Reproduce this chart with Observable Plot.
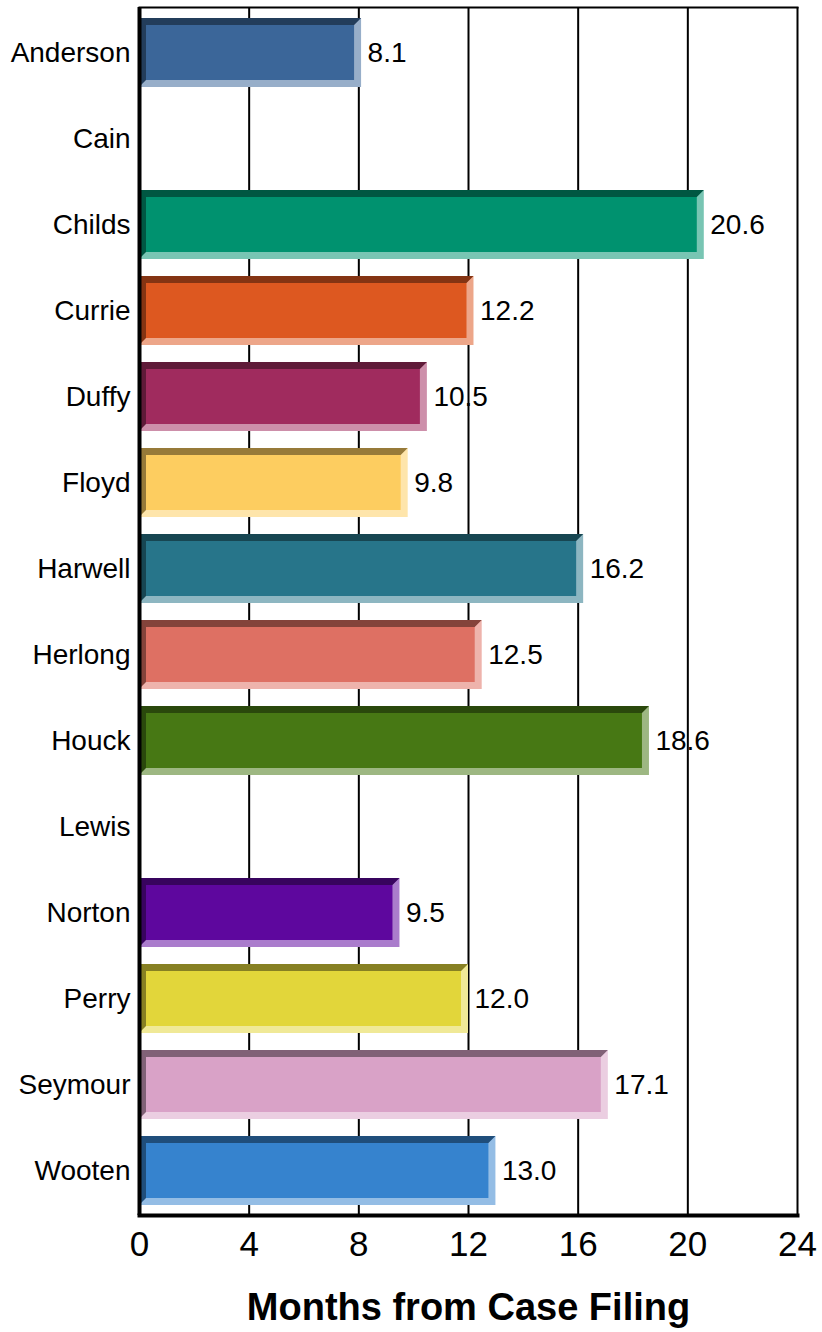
<!DOCTYPE html>
<html><head><meta charset="utf-8">
<script src="https://cdn.jsdelivr.net/npm/d3@7"></script>
<script src="https://cdn.jsdelivr.net/npm/@observablehq/plot@0.6"></script>
<style>
body{margin:0;background:#fff;color:#000;}
svg{font-family:"Liberation Sans",Arial,Helvetica,sans-serif;}
</style>
</head><body><div id="chart"></div>
<script>
const judges = ["Anderson","Cain","Childs","Currie","Duffy","Floyd","Harwell","Herlong","Houck","Lewis","Norton","Perry","Seymour","Wooten"];
const months = [8.1,null,20.6,12.2,10.5,9.8,16.2,12.5,18.6,null,9.5,12.0,17.1,13.0];
const barColors = ["#3b6699",null,"#00926f","#dd5820","#a02b5e","#fdcd60","#27758a","#de7063","#477814",null,"#5e079e","#e2d63a","#d9a2c7","#3683ce"];
const xTicks = [0,4,8,12,16,20,24];
const xLabel = "Months from Case Filing";

const data = judges.map((j,i)=>({judge:j, value:months[i], color:barColors[i]}))
  .filter(d => d.value != null);

const B = 7;
function bevelRender(index, scales, values, dimensions, context) {
  const g = d3.create("svg:g");
  const bw = scales.y.bandwidth();
  for (const i of index) {
    const x0 = values.x1[i], x1 = values.x2[i], y0 = values.y[i], y1 = y0 + bw;
    const c = data[i].color;
    const dark = d3.rgb(c).darker(1.45).formatHex();
    const light = d3.interpolateRgb(c, "#ffffff")(0.47);
    g.append("rect").attr("x", x0).attr("y", y0).attr("width", x1 - x0).attr("height", bw).attr("fill", light);
    g.append("polygon").attr("fill", dark)
      .attr("points", [[x0,y0],[x1,y0],[x1-B,y0+B],[x0+B,y0+B],[x0+B,y1-B],[x0,y1]].map(p=>p.join(",")).join(" "));
    g.append("rect").attr("x", x0 + B).attr("y", y0 + B).attr("width", x1 - x0 - 2*B).attr("height", bw - 2*B).attr("fill", c);
  }
  return g.node();
}

const chart = Plot.plot({
  width: 822,
  height: 1332,
  marginTop: 7,
  marginBottom: 117,
  marginLeft: 139,
  marginRight: 25,
  x: {domain: [0, 24]},
  y: {domain: judges, paddingInner: 0.2, paddingOuter: 0.1},
  marks: [
    Plot.ruleX(xTicks.slice(1), {stroke: "black", strokeWidth: 2}),
    Plot.frame({anchor: "top", stroke: "black", strokeWidth: 2}),
    Plot.barX(data, {x1: 0, x2: "value", y: "judge", fill: "color", render: bevelRender}),
    Plot.ruleX([0], {stroke: "black", strokeWidth: 4}),
    Plot.frame({anchor: "bottom", stroke: "black", strokeWidth: 4}),
    Plot.text(data, {x: "value", y: "judge", text: d => d.value.toFixed(1), dx: 6, textAnchor: "start", fontSize: 28, fill: "black"}),
    Plot.axisY({tickSize: 0, tickPadding: 9, fontSize: 28, label: null}),
    Plot.axisX({ticks: xTicks, tickSize: 0, tickPadding: 16, fontSize: 35, label: null, tickFormat: d3.format("d")}),
    Plot.text([xLabel], {frameAnchor: "bottom", dy: 104, fontSize: 38, fontWeight: "bold", fill: "black"})
  ]
});
document.getElementById("chart").append(chart);
</script>
</body></html>
